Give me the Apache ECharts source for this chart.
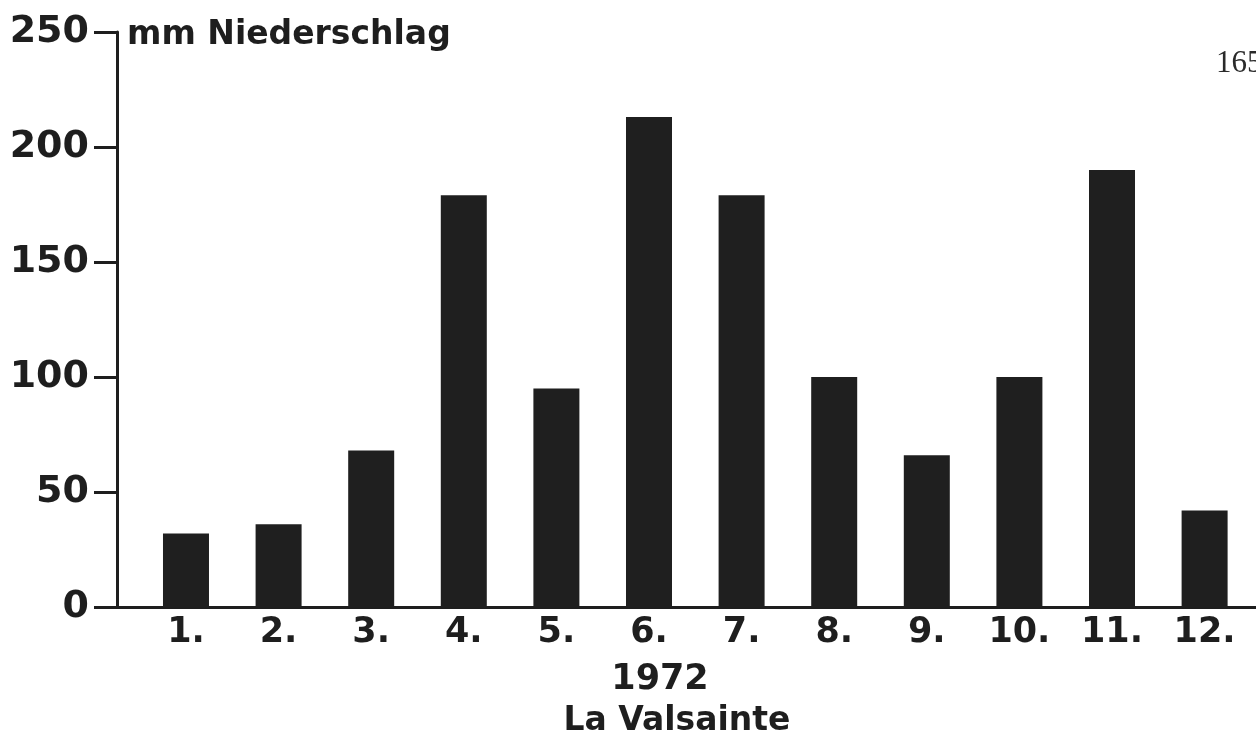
<!DOCTYPE html>
<html>
<head>
<meta charset="utf-8">
<script src="https://cdn.jsdelivr.net/npm/echarts@6/dist/echarts.min.js"></script>
<style>
html,body{margin:0;padding:0;background:#fff;}
#chart{width:1256px;height:740px;}
</style>
</head>
<body>
<div id="chart"></div>
<script>
const months = [1, 2, 3, 4, 5, 6, 7, 8, 9, 10, 11, 12];
const monthLabels = ['1.', '2.', '3.', '4.', '5.', '6.', '7.', '8.', '9.', '10.', '11.', '12.'];
const precipitation = [32, 36, 68, 179, 95, 213, 179, 100, 66, 100, 190, 42];
const yTicks = [0, 50, 100, 150, 200, 250];

const ink = '#1e1e1e';
const font = 'DejaVu Sans';

const chart = echarts.init(document.getElementById('chart'), null, {renderer: 'canvas'});
chart.setOption({
  backgroundColor: '#ffffff',
  animation: false,
  title: [
    {text: '1972', left: 655, top: 657, textAlign: 'center',
     textStyle: {fontFamily: font, fontWeight: 'bold', fontSize: 35, color: ink}},
    {text: 'La Valsainte', left: 672, top: 700, textAlign: 'center',
     textStyle: {fontFamily: font, fontWeight: 'bold', fontSize: 33, color: ink}},
    {text: '165', left: 1211, top: 43,
     textStyle: {fontFamily: 'Liberation Serif', fontWeight: 'normal', fontSize: 31, color: '#2a2a2a'}}
  ],
  grid: {left: 117, right: 0, top: 32, bottom: 133, containLabel: false},
  xAxis: {
    type: 'value',
    min: 0.255,
    max: 12.555,
    axisLine: {show: true, onZero: false, lineStyle: {color: ink, width: 3}},
    axisTick: {show: false},
    splitLine: {show: false},
    axisLabel: {
      customValues: months,
      formatter: function (v) { return monthLabels[months.indexOf(Math.round(v))] || ''; },
      fontFamily: font, fontWeight: 'bold', fontSize: 35, color: ink, margin: 8
    }
  },
  yAxis: {
    type: 'value',
    min: 0,
    max: 250,
    interval: 50,
    name: 'mm Niederschlag',
    nameLocation: 'end',
    nameGap: -3,
    nameTextStyle: {fontFamily: font, fontWeight: 'bold', fontSize: 33, color: ink,
      align: 'left', verticalAlign: 'middle', padding: [0, 0, 0, 10]},
    axisLine: {show: true, lineStyle: {color: ink, width: 3}},
    axisTick: {show: true, inside: false, length: 23, lineStyle: {color: ink, width: 3}},
    splitLine: {show: false},
    axisLabel: {
      customValues: yTicks,
      fontFamily: font, fontWeight: 'bold', fontSize: 38, color: ink, margin: 28
    }
  },
  series: [{
    type: 'bar',
    data: months.map((m, i) => [m, precipitation[i]]),
    barWidth: 46,
    itemStyle: {color: '#1f1f1f'},
    z: 1
  }]
});
</script>
</body>
</html>
